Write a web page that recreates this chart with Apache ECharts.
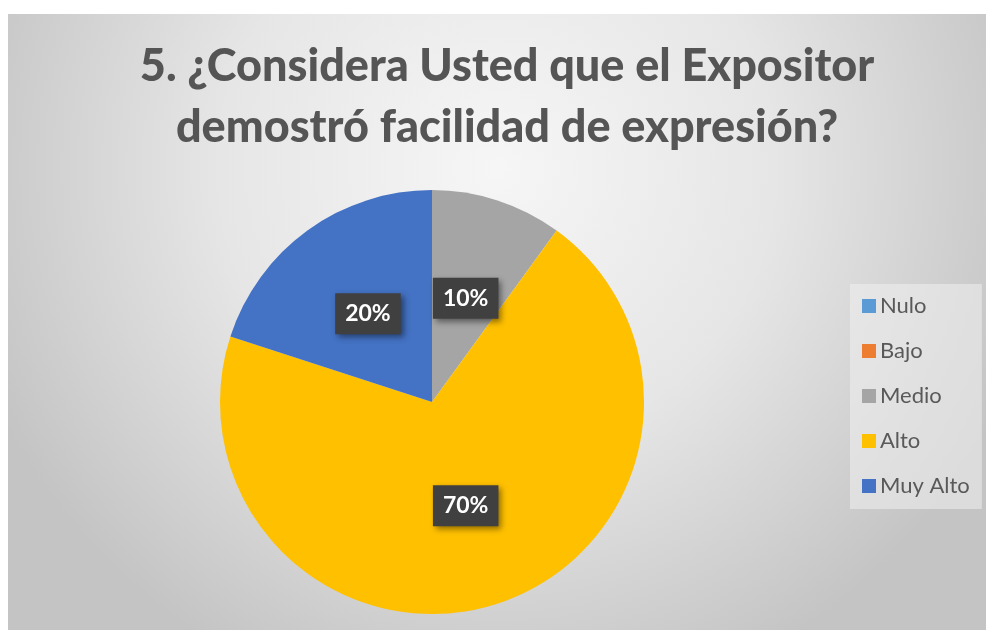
<!DOCTYPE html>
<html>
<head>
<meta charset="utf-8">
<script src="https://cdn.jsdelivr.net/npm/echarts@6/dist/echarts.min.js"></script>
<style>
  html, body { margin: 0; padding: 0; background: #fff; }
  #chart { position: absolute; left: 8px; top: 14px; width: 978px; height: 616px; }
</style>
</head>
<body>
<div id="chart"></div>
<script>
// valores
const categories = ['Nulo', 'Bajo', 'Medio', 'Alto', 'Muy Alto']
const values = [0, 0, 10, 70, 20]
const colors = ['#5b9bd5', '#ed7d31', '#a5a5a5', '#ffc000', '#4472c4']
const titleLines = ['5. ¿Considera Usted que el Expositor', 'demostró facilidad de expresión?']

const chart = echarts.init(document.getElementById('chart'))

chart.setOption({
  backgroundColor: {
    type: 'radial',
    x: 0.5, y: 0.25, r: 0.9,
    colorStops: [
      { offset: 0, color: '#f6f6f6' },
      { offset: 0.5, color: '#e6e6e6' },
      { offset: 1, color: '#c4c4c4' }
    ]
  },
  title: {
    text: titleLines.join('\n'),
    left: 494,
    top: 17,
    textAlign: 'center',
    textStyle: {
      fontFamily: 'Lato',
      fontWeight: 900,
      fontSize: 45,
      lineHeight: 61,
      color: '#555555'
    }
  },
  legend: {
    orient: 'vertical',
    left: 842,
    top: 270,
    itemWidth: 14,
    itemHeight: 14,
    itemGap: 23,
    padding: [11, 12, 12, 12],
    backgroundColor: 'rgba(240,240,240,0.55)',
    icon: 'rect',
    data: categories,
    textStyle: {
      fontFamily: 'Lato',
      fontSize: 22,
      lineHeight: 22,
      color: '#595959',
      padding: [0, 0, 0, -1]
    }
  },
  series: [{
    type: 'pie',
    center: [424, 388],
    radius: 212,
    startAngle: 90,
    clockwise: true,
    avoidLabelOverlap: false,
    animation: false,
    itemStyle: { borderWidth: 0 },
    label: {
      position: 'inside',
      formatter: '{d}%',
      fontFamily: 'Lato',
      fontWeight: 'bold',
      fontSize: 23,
      color: '#ffffff',
      backgroundColor: '#404040',
      padding: [10, 10, 8, 10],
      shadowColor: 'rgba(0,0,0,0.45)',
      shadowBlur: 6,
      shadowOffsetX: 3,
      shadowOffsetY: 3
    },
    labelLine: { show: false },
    data: categories.map((name, i) => ({
      name,
      value: values[i],
      itemStyle: { color: colors[i] },
      label: { show: values[i] > 0 }
    }))
  }]
})
</script>
</body>
</html>
